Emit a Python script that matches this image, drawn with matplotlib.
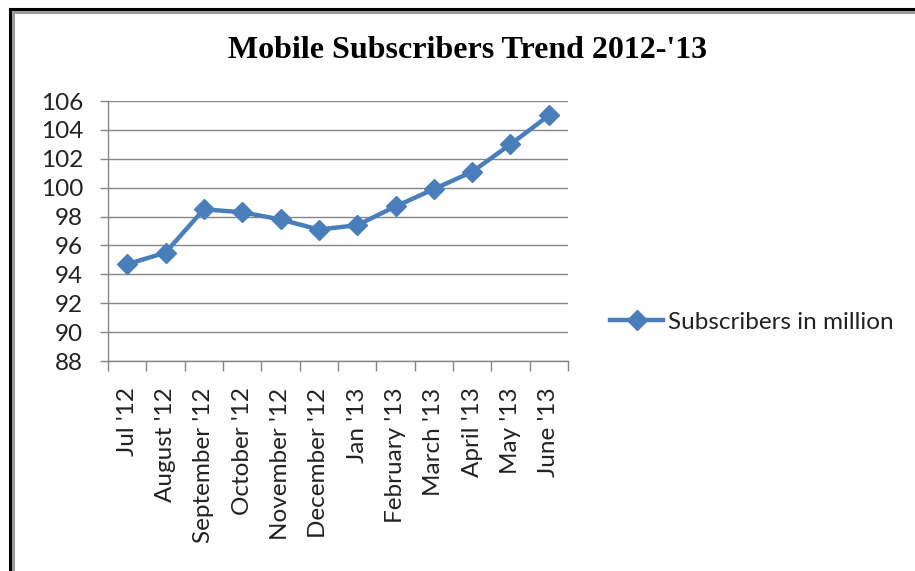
import matplotlib.pyplot as plt
from matplotlib.lines import Line2D
import numpy as np

months = ["Jul '12", "August '12", "September '12", "October '12", "November '12",
          "December '12", "Jan '13", "February '13", "March '13", "April '13",
          "May '13", "June '13"]
subscribers = [94.7, 95.5, 98.5, 98.3, 97.8, 97.1, 97.4, 98.7, 99.9, 101.1, 103.0, 105.0]
y_ticks = [88, 90, 92, 94, 96, 98, 100, 102, 104, 106]

W, H = 915, 571
fig = plt.figure(figsize=(W / 100, H / 100), dpi=100)
plt.rcParams['font.family'] = ['Lato', 'DejaVu Sans']

# plot area in pixels: left 108, right 568, top 101, bottom 361
ax = fig.add_axes([108 / W, 1 - 361 / H, (568 - 108) / W, (361 - 101) / H])

blue = '#4A7EBB'
grid_c = '#868686'
x = np.arange(len(months))
ax.plot(x, subscribers, color=blue, linewidth=3.2, marker='D', markersize=10,
        markeredgecolor=blue, label='Subscribers in million')

ax.set_ylim(88, 106)
ax.set_xlim(-0.5, len(months) - 0.5)
ax.set_yticks(y_ticks)
ax.set_yticklabels([str(v) for v in y_ticks])
ax.yaxis.grid(True, color=grid_c, linewidth=1)
ax.set_axisbelow(True)

ax.set_xticks(x)
ax.set_xticklabels(months, rotation=90, va='top', ha='center')
ax.set_xticks(np.arange(-0.5, len(months), 1.0), minor=True)
ax.tick_params(axis='x', which='major', length=0, pad=19, labelsize=17.5, colors='#222222')
ax.tick_params(axis='x', which='minor', length=7, width=1, color=grid_c, direction='out')
ax.tick_params(axis='y', length=6, width=1, color=grid_c, pad=12, labelsize=17.5,
               labelcolor='#222222')

for s in ['top', 'right']:
    ax.spines[s].set_visible(False)
for s in ['left', 'bottom']:
    ax.spines[s].set_color(grid_c)
    ax.spines[s].set_linewidth(1)

fig.text(468 / W, 1 - 50 / H, "Mobile Subscribers Trend 2012-'13", ha='center', va='center',
         fontsize=23, fontweight='bold', family='Liberation Serif')

leg = ax.legend(loc='center left', bbox_to_anchor=(610 / W, 1 - 322 / H),
                bbox_transform=fig.transFigure, frameon=False, fontsize=17.5,
                borderpad=0, borderaxespad=0, handlelength=2.2, handletextpad=0.2)
for t in leg.get_texts():
    t.set_color('#222222')

# window-like border on left and top
fig.add_artist(Line2D([9.5 / W, 9.5 / W], [0, 1 - 8.5 / H], color='black', linewidth=2.2,
                      transform=fig.transFigure))
fig.add_artist(Line2D([9.5 / W, 1], [1 - 8.5 / H, 1 - 8.5 / H], color='black', linewidth=2.2,
                      transform=fig.transFigure))
fig.add_artist(Line2D([12.5 / W, 12.5 / W], [0, 1 - 11.5 / H], color='#9a9a9a', linewidth=2.2,
                      transform=fig.transFigure))
fig.add_artist(Line2D([12.5 / W, 1], [1 - 11.5 / H, 1 - 11.5 / H], color='#9a9a9a', linewidth=2.2,
                      transform=fig.transFigure))

fig.savefig('out.png', dpi=100)
